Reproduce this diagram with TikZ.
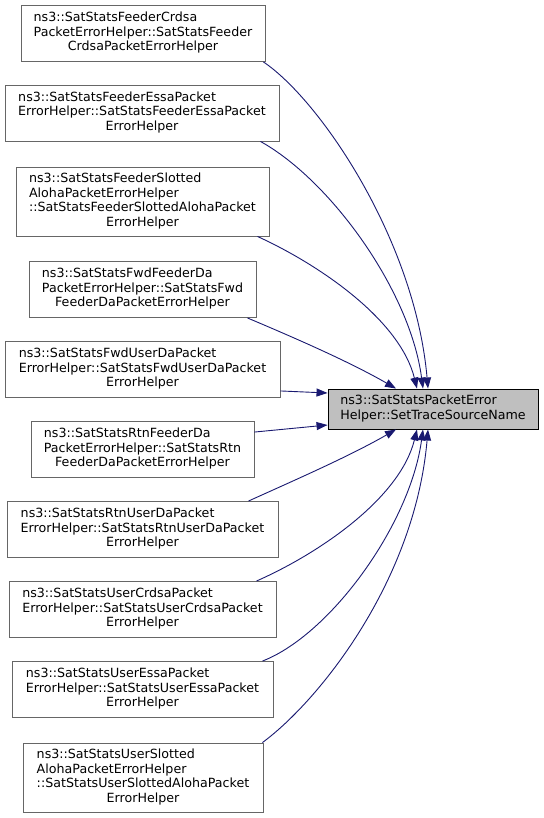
\documentclass[tikz,border=0pt]{standalone}
\usepackage{fontspec}
\setmainfont{DejaVu Sans}
\usetikzlibrary{arrows.meta}
\definecolor{edgeblue}{HTML}{191970}
\definecolor{boxgray}{HTML}{666666}
\definecolor{targetfill}{HTML}{BFBFBF}
\newcommand{\lbl}[2]{\begin{tabular}{@{}l@{}}#1\\\multicolumn{1}{@{}c@{}}{#2}\end{tabular}}
\tikzset{
  fnbox/.style={draw=boxgray, fill=white, line width=0.9bp, inner sep=0pt, minimum height=56bp,
    font=\fontsize{12.7}{14.5}\selectfont, text=black},
  tallbox/.style={fnbox, minimum height=69bp},
  targetbox/.style={fnbox, draw=black, fill=targetfill, minimum height=40bp},
  edge/.style={draw=edgeblue, line width=0.9bp, -{Triangle[length=11bp,width=8bp]}}
}
\begin{document}
\begin{tikzpicture}[x=1bp,y=-1bp]
\useasboundingbox (0,0) rectangle (544,818);
\node[fnbox, minimum width=244bp] (n1) at (143,33.5) {\lbl{ns3::SatStatsFeederCrdsa\\PacketErrorHelper::SatStatsFeeder}{CrdsaPacketErrorHelper}};
\node[fnbox, minimum width=274bp] (n2) at (142,113) {\lbl{ns3::SatStatsFeederEssaPacket\\ErrorHelper::SatStatsFeederEssaPacket}{ErrorHelper}};
\node[tallbox, minimum width=253bp] (n3) at (142.5,201.5) {\lbl{ns3::SatStatsFeederSlotted\\AlohaPacketErrorHelper\\::SatStatsFeederSlottedAlohaPacket}{ErrorHelper}};
\node[fnbox, minimum width=227bp] (n4) at (142.5,289.5) {\lbl{ns3::SatStatsFwdFeederDa\\PacketErrorHelper::SatStatsFwd}{FeederDaPacketErrorHelper}};
\node[fnbox, minimum width=275bp] (n5) at (142.5,369.5) {\lbl{ns3::SatStatsFwdUserDaPacket\\ErrorHelper::SatStatsFwdUserDaPacket}{ErrorHelper}};
\node[fnbox, minimum width=223bp] (n6) at (142.5,449.5) {\lbl{ns3::SatStatsRtnFeederDa\\PacketErrorHelper::SatStatsRtn}{FeederDaPacketErrorHelper}};
\node[fnbox, minimum width=271bp] (n7) at (142.5,529.5) {\lbl{ns3::SatStatsRtnUserDaPacket\\ErrorHelper::SatStatsRtnUserDaPacket}{ErrorHelper}};
\node[fnbox, minimum width=267bp] (n8) at (142.5,609.5) {\lbl{ns3::SatStatsUserCrdsaPacket\\ErrorHelper::SatStatsUserCrdsaPacket}{ErrorHelper}};
\node[fnbox, minimum width=261bp] (n9) at (142.5,689.5) {\lbl{ns3::SatStatsUserEssaPacket\\ErrorHelper::SatStatsUserEssaPacket}{ErrorHelper}};
\node[tallbox, minimum width=240bp] (n10) at (143,777.5) {\lbl{ns3::SatStatsUserSlotted\\AlohaPacketErrorHelper\\::SatStatsUserSlottedAlohaPacket}{ErrorHelper}};
\node[targetbox, minimum width=210bp] (t) at (433,409) {\lbl{ns3::SatStatsPacketError}{Helper::SetTraceSourceName}};

\draw[edge] ([xshift=-2bp]n1.south east) .. controls (320,100) and (415,240) .. ([xshift=-5bp]t.north);
\draw[edge] ([xshift=-19bp]n2.south east) .. controls (330,180) and (410,290) .. ([xshift=-10bp]t.north);
\draw[edge] ([xshift=-12bp]n3.south east) .. controls (320,265) and (400,320) .. ([xshift=-16bp]t.north);
\draw[edge] ([xshift=-9bp]n4.south east) .. controls (295,338) and (350,362) .. ([xshift=-37bp]t.north);
\draw[edge] ([yshift=7bp]n5.south east) -- ([yshift=16bp]t.west);
\draw[edge] ([yshift=-11bp]n6.north east) -- ([yshift=-16bp]t.west);
\draw[edge] ([xshift=-30bp]n7.north east) .. controls (295,480) and (350,456) .. ([xshift=-37bp]t.south);
\draw[edge] ([xshift=-20bp]n8.north east) .. controls (320,553) and (400,498) .. ([xshift=-16bp]t.south);
\draw[edge] ([xshift=-11bp]n9.north east) .. controls (330,635) and (410,525) .. ([xshift=-10bp]t.south);
\draw[edge] ([xshift=-1bp]n10.north east) .. controls (320,700) and (415,580) .. ([xshift=-5bp]t.south);
\end{tikzpicture}
\end{document}
